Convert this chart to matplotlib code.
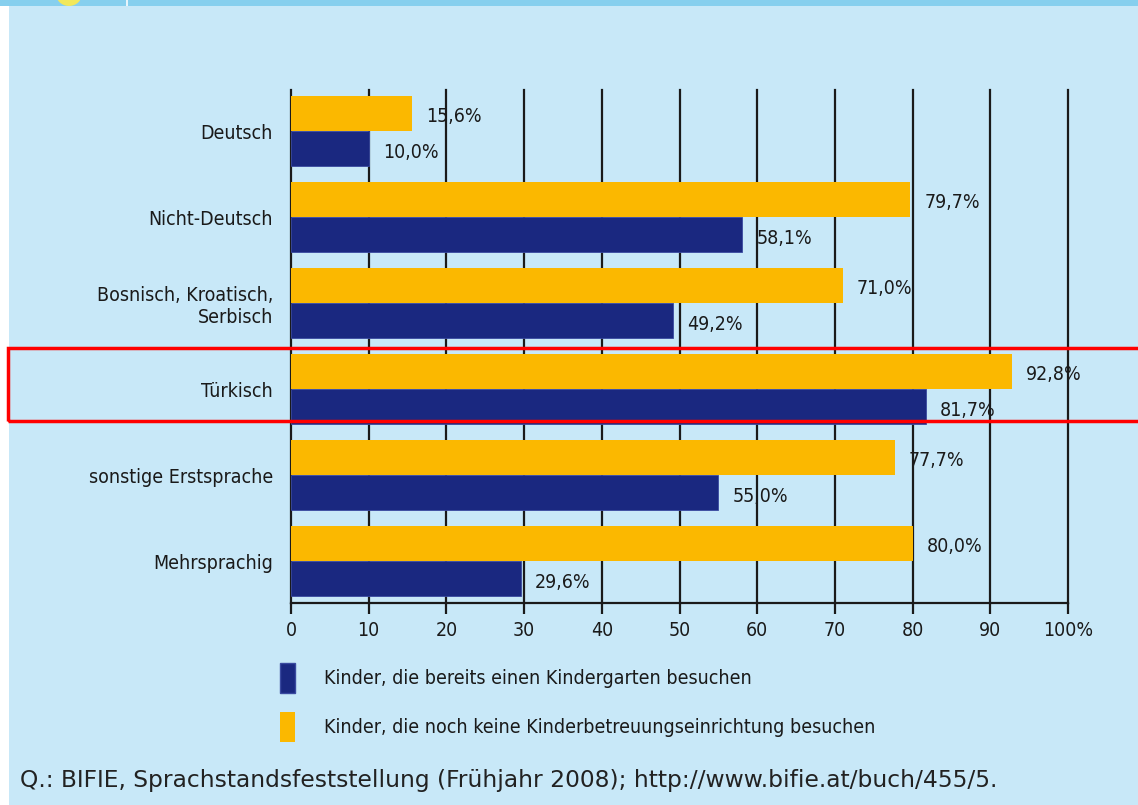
import matplotlib.pyplot as plt
import matplotlib.font_manager as fm
from matplotlib.patches import Rectangle, Patch, Ellipse

# Daten
categories = ['Deutsch', 'Nicht-Deutsch', 'Bosnisch, Kroatisch,\nSerbisch',
              'Türkisch', 'sonstige Erstsprache', 'Mehrsprachig']
kindergarten = [10.0, 58.1, 49.2, 81.7, 55.0, 29.6]
keine_betreuung = [15.6, 79.7, 71.0, 92.8, 77.7, 80.0]
x_ticks = [0, 10, 20, 30, 40, 50, 60, 70, 80, 90, 100]
x_ticklabels = ['0', '10', '20', '30', '40', '50', '60', '70', '80', '90', '100%']
legend_labels = ['Kinder, die bereits einen Kindergarten besuchen',
                 'Kinder, die noch keine Kinderbetreuungseinrichtung besuchen']
source = 'Q.: BIFIE, Sprachstandsfeststellung (Frühjahr 2008); http://www.bifie.at/buch/455/5.'

bg = '#c8e8f8'
navy = '#1a2880'
orange = '#fbb800'
ink = '#1a1a1a'

# schmale Schrift suchen, sonst DejaVu Sans
cond = [f for f in fm.fontManager.ttflist
        if (f.stretch in ('condensed', 'semi-condensed') or 'Narrow' in f.name
            or 'Condensed' in f.name) and f.style == 'normal' and f.weight in (400, 'normal', 'regular')]
cond.sort(key=lambda f: (0 if 'Liberation' in f.name else 1 if 'DejaVu' in f.name else 2))
if cond:
    narrow_file = cond[0].fname
    def nfont(size):
        return fm.FontProperties(fname=narrow_file, size=size)
else:
    def nfont(size):
        return fm.FontProperties(family='DejaVu Sans', size=size)

fs = 14

fig = plt.figure(figsize=(11.38, 8.05), dpi=100)
fig.patch.set_facecolor(bg)

# Dekoration oben / links
fig.patches.append(Rectangle((0, 0), 9 / 1138, 1, transform=fig.transFigure,
                             facecolor='white', edgecolor='none', zorder=0))
fig.patches.append(Rectangle((0, 1 - 6 / 805), 1, 6 / 805, transform=fig.transFigure,
                             facecolor='#86cfee', edgecolor='none', zorder=1))
fig.patches.append(Ellipse((69 / 1138, 1 + 6 / 805), 26 / 1138, 24 / 805, transform=fig.transFigure,
                           facecolor='#f2e85a', edgecolor='none', zorder=2))
fig.patches.append(Rectangle((126 / 1138, 1 - 6 / 805), 2 / 1138, 6 / 805, transform=fig.transFigure,
                             facecolor='#e8f4fb', edgecolor='none', zorder=2))

ax = fig.add_axes([291 / 1138, 1 - 603 / 805, 777 / 1138, 513 / 805])
ax.set_facecolor(bg)

y = list(range(len(categories)))
h = 0.41
ax.barh([i - h / 2 for i in y], keine_betreuung, height=h, color=orange, zorder=3)
ax.barh([i + h / 2 for i in y], kindergarten, height=h, color=navy,
        edgecolor='#3a4aa0', linewidth=0.6, zorder=3)

for i in y:
    ax.text(keine_betreuung[i] + 1.8, i - h / 2 + 0.04,
            f'{keine_betreuung[i]:.1f}'.replace('.', ',') + '%',
            va='center', ha='left', fontproperties=nfont(fs), color=ink, zorder=4)
    ax.text(kindergarten[i] + 1.8, i + h / 2 + 0.04,
            f'{kindergarten[i]:.1f}'.replace('.', ',') + '%',
            va='center', ha='left', fontproperties=nfont(fs), color=ink, zorder=4)

for t in x_ticks:
    ax.axvline(t, color=ink, lw=1.6, zorder=2, clip_on=False)

ax.set_xlim(0, 100)
ax.set_ylim(5.488, -0.477)
ax.set_xticks(x_ticks)
ax.set_xticklabels(x_ticklabels)
ax.set_yticks(y)
ax.set_yticklabels(categories, ha='right')
for lab in ax.get_xticklabels() + ax.get_yticklabels():
    lab.set_fontproperties(nfont(fs))
    lab.set_color(ink)
ax.tick_params(axis='y', length=0, pad=13)
ax.tick_params(axis='x', length=8, width=1.6, direction='out', pad=5, color=ink)
for s in ['top', 'right', 'left']:
    ax.spines[s].set_visible(False)
ax.spines['bottom'].set_linewidth(1.6)
ax.spines['bottom'].set_color(ink)

handles = [Patch(facecolor=navy, edgecolor='#3a4aa0'), Patch(facecolor=orange, edgecolor='none')]
leg = fig.legend(handles, legend_labels, loc='upper left', bbox_to_anchor=(262 / 1138, 1 - 645 / 805),
                 frameon=False, handlelength=0.82, handleheight=2.0, handletextpad=1.45,
                 labelspacing=1.0, prop=nfont(fs))
for t in leg.get_texts():
    t.set_color(ink)

fig.text(20 / 1138, 1 - 780 / 805, source, fontsize=16.8, family='DejaVu Sans',
         color='#222222', va='center', ha='left')

# roter Rahmen um Türkisch
fig.patches.append(Rectangle((8 / 1138, 1 - 421 / 805), 1.1, 73 / 805, transform=fig.transFigure,
                             facecolor='none', edgecolor='#ff0000', linewidth=2.5, zorder=10))

fig.savefig('out.png', dpi=100, facecolor=fig.get_facecolor())
